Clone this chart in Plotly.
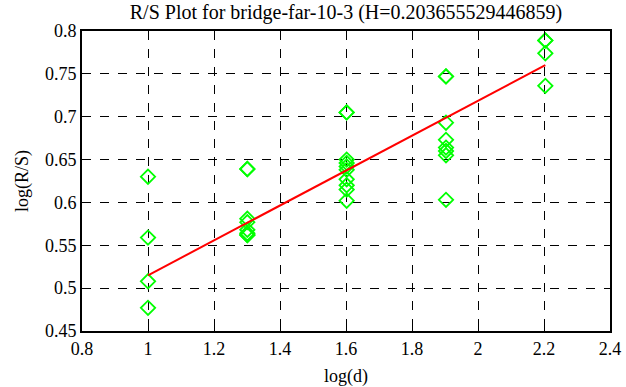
import plotly.graph_objects as go

# log(d) values and log(R/S) values
x_1 = [1.0, 1.0, 1.0, 1.0]
y_1 = [0.630, 0.559, 0.508, 0.477]
x_13 = [1.301] * 8
y_13 = [0.639, 0.639, 0.581, 0.577, 0.568, 0.564, 0.562, 0.562]
x_16 = [1.602] * 10
y_16 = [0.705, 0.705, 0.650, 0.646, 0.642, 0.638, 0.627, 0.620, 0.615, 0.602]
x_19 = [1.903] * 8
y_19 = [0.747, 0.747, 0.693, 0.673, 0.664, 0.660, 0.655, 0.603]
x_22 = [2.204] * 4
y_22 = [0.789, 0.789, 0.774, 0.736]

xs = x_1 + x_13 + x_16 + x_19 + x_22
ys = y_1 + y_13 + y_16 + y_19 + y_22

H = 0.203655529446859
intercept = 0.3113
fit_x = [1.0, 2.204]
fit_y = [intercept + H * v for v in fit_x]

x_ticks = [0.8, 1.0, 1.2, 1.4, 1.6, 1.8, 2.0, 2.2, 2.4]
y_ticks = [0.45, 0.5, 0.55, 0.6, 0.65, 0.7, 0.75, 0.8]

FAM = "'Liberation Serif', 'Times New Roman', Times, serif"
font = dict(family=FAM, size=18, color="black")

fig = go.Figure()
fig.add_trace(go.Scatter(
    x=xs, y=ys, mode="markers",
    marker=dict(symbol="diamond-open", size=11, color="#00ff00",
                line=dict(width=1.8, color="#00ff00")),
    showlegend=False, cliponaxis=False))
fig.add_trace(go.Scatter(
    x=fit_x, y=fit_y, mode="lines",
    line=dict(color="#ff0000", width=2), showlegend=False))

axis_common = dict(
    showgrid=True, gridcolor="black", griddash="dash", gridwidth=1,
    showline=True, linecolor="black", linewidth=2, mirror="ticks",
    ticks="inside", ticklen=5, tickcolor="black", tickwidth=1,
    zeroline=False, tickfont=font, automargin=False,
)
fig.update_xaxes(range=[0.8, 2.4], tickvals=x_ticks,
                 ticktext=[f"{v:g}" for v in x_ticks],
                 title=dict(text="log(d)", font=font, standoff=17), **axis_common)
fig.update_yaxes(range=[0.45, 0.8], tickvals=y_ticks,
                 ticktext=[f"{v:g}" for v in y_ticks],
                 title=dict(text="log(R/S)", font=font, standoff=12), **axis_common)

fig.update_layout(
    width=626, height=387,
    margin=dict(l=82, r=16, t=31, b=56, autoexpand=False),
    paper_bgcolor="white", plot_bgcolor="white",
    font=font,
    title=dict(text=f"R/S Plot for bridge-far-10-3 (H={H})",
               x=0.5527, xanchor="center", y=0.988, yanchor="top",
               font=dict(family=FAM, size=20, color="black")),
)
fig.write_html("out.html", config={"displayModeBar": False},
               post_script="document.body.style.margin='0';")
